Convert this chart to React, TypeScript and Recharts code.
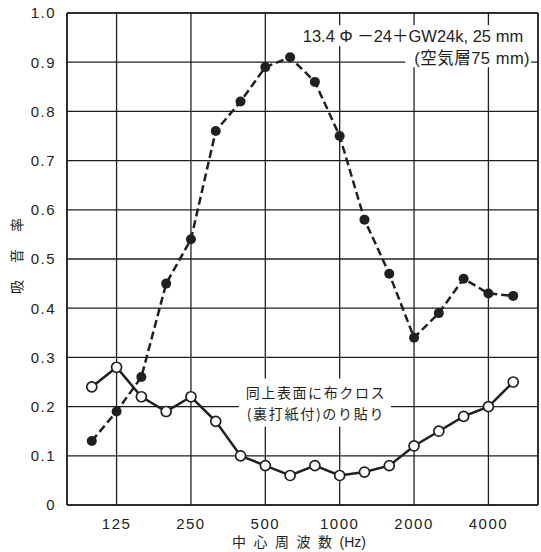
import React from 'react';
import { LineChart, Line, XAxis, YAxis, CartesianGrid, ReferenceLine, ReferenceDot } from 'recharts';

// 1/3-octave centre frequencies (Hz)
const freqs = [100, 125, 160, 200, 250, 315, 400, 500, 630, 800, 1000, 1250, 1600, 2000, 2500, 3150, 4000, 5000];
// 13.4Φ-24 + GW24k 25 mm (air layer 75 mm) — dashed, filled dots
const boardValues = [0.13, 0.19, 0.26, 0.45, 0.54, 0.76, 0.82, 0.89, 0.91, 0.86, 0.75, 0.58, 0.47, 0.34, 0.39, 0.46, 0.43, 0.425];
// same + cloth finish — solid, open dots
const clothValues = [0.24, 0.28, 0.22, 0.19, 0.22, 0.17, 0.10, 0.08, 0.06, 0.08, 0.06, 0.067, 0.08, 0.12, 0.15, 0.18, 0.20, 0.25];
const xTickFreqs = [125, 250, 500, 1000, 2000, 4000];
const yTicks = [0, 0.1, 0.2, 0.3, 0.4, 0.5, 0.6, 0.7, 0.8, 0.9, 1.0];

const data = freqs.map((f, i) => ({ i, f, board: boardValues[i], cloth: clothValues[i] }));
const xTicks = xTickFreqs.map((f) => freqs.indexOf(f));

const INK = '#231f20';
const LATIN = '"Liberation Sans", Arial, "Noto Sans CJK JP", sans-serif';
const CJK = '"Noto Sans CJK JP", "Liberation Sans", sans-serif';

const FilledDot = (p: any) => <circle cx={p.cx} cy={p.cy} r={5} fill={INK} stroke="none" />;
const OpenDot = (p: any) => <circle cx={p.cx} cy={p.cy} r={5} fill="#fff" stroke={INK} strokeWidth={1.7} />;

const TopNote = (props: any) => {
  const { x, y } = props.viewBox;
  return (
    <g>
      <rect x={x - 221} y={y - 37} width={225} height={21} fill="#fff" />
      <rect x={x - 118} y={y - 17} width={126} height={22} fill="#fff" />
      <text x={x} y={y - 20.5} textAnchor="end" fontFamily={LATIN} fontSize={16.5} fill={INK}>
        13.4 Φ －24＋GW24k, 25 mm
      </text>
      <text x={x + 7} y={y + 2} textAnchor="end" fontFamily={LATIN} fontSize={16.5} letterSpacing={0.5} fill={INK}>
        (空気層75 mm)
      </text>
    </g>
  );
};

const MidNote = (props: any) => {
  const { x, y } = props.viewBox;
  return (
    <g>
      <rect x={x - 76} y={y - 28} width={152} height={48} fill="#fff" />
      <text x={x + 1} y={y - 9} textAnchor="middle" fontFamily={CJK} fontSize={14} letterSpacing={1.6} fill={INK}>
        同上表面に布クロス
      </text>
      <text x={x + 1} y={y + 12} textAnchor="middle" fontFamily={CJK} fontSize={14} letterSpacing={1.7} fill={INK}>
        (裏打紙付)のり貼り
      </text>
    </g>
  );
};

const YTitle = () => (
  <text x={17} y={256} dy={5} transform="rotate(-90 17 256)" textAnchor="middle" fontFamily={CJK} fontSize={14} letterSpacing={17} fill={INK}>
    <tspan dx={8.5}>吸音率</tspan>
  </text>
);

const XTitle = () => (
  <text x={232} y={547} textAnchor="start" fontFamily={CJK} fontSize={14} fill={INK}>
    <tspan letterSpacing={7.5}>中心周波数</tspan>
    <tspan fontFamily={LATIN} dx={0}>(Hz)</tspan>
  </text>
);

export default function App() {
  return (
    <div style={{ position: 'absolute', left: 0, top: 0, background: '#fff' }}>
      <LineChart width={541} height={552} data={data} margin={{ top: 13, right: 3, left: 0, bottom: 0 }}>
        <CartesianGrid stroke={INK} strokeWidth={1.3} />
        <XAxis
          type="number"
          dataKey="i"
          domain={[-1, 18]}
          ticks={xTicks}
          tickFormatter={(v: number) => String(freqs[v])}
          height={47}
          tickLine={false}
          tickMargin={7}
          axisLine={{ stroke: INK, strokeWidth: 1.6 }}
          tick={{ fill: INK, fontSize: 15, fontFamily: LATIN, letterSpacing: 1.5 }}
          label={<XTitle />}
        />
        <YAxis
          type="number"
          domain={[0, 1]}
          ticks={yTicks}
          tickFormatter={(v: number) => (v === 0 ? '0' : v.toFixed(1))}
          width={67}
          tickLine={false}
          tickMargin={5}
          axisLine={{ stroke: INK, strokeWidth: 1.6 }}
          tick={{ fill: INK, fontSize: 15, fontFamily: LATIN, letterSpacing: 1.5 }}
          label={<YTitle />}
        />
        <ReferenceLine x={18} stroke={INK} strokeWidth={1.6} />
        <ReferenceLine y={1} stroke={INK} strokeWidth={1.6} />
        <ReferenceDot x={17.4} y={0.9} r={0} fill="none" stroke="none" label={<TopNote />} />
        <ReferenceDot x={9} y={0.2} r={0} fill="none" stroke="none" label={<MidNote />} />
        <Line
          type="linear"
          dataKey="cloth"
          stroke={INK}
          strokeWidth={2.5}
          dot={<OpenDot />}
          isAnimationActive={false}
        />
        <Line
          type="linear"
          dataKey="board"
          stroke={INK}
          strokeWidth={2.5}
          strokeDasharray="8 4"
          dot={<FilledDot />}
          isAnimationActive={false}
        />
      </LineChart>
    </div>
  );
}
